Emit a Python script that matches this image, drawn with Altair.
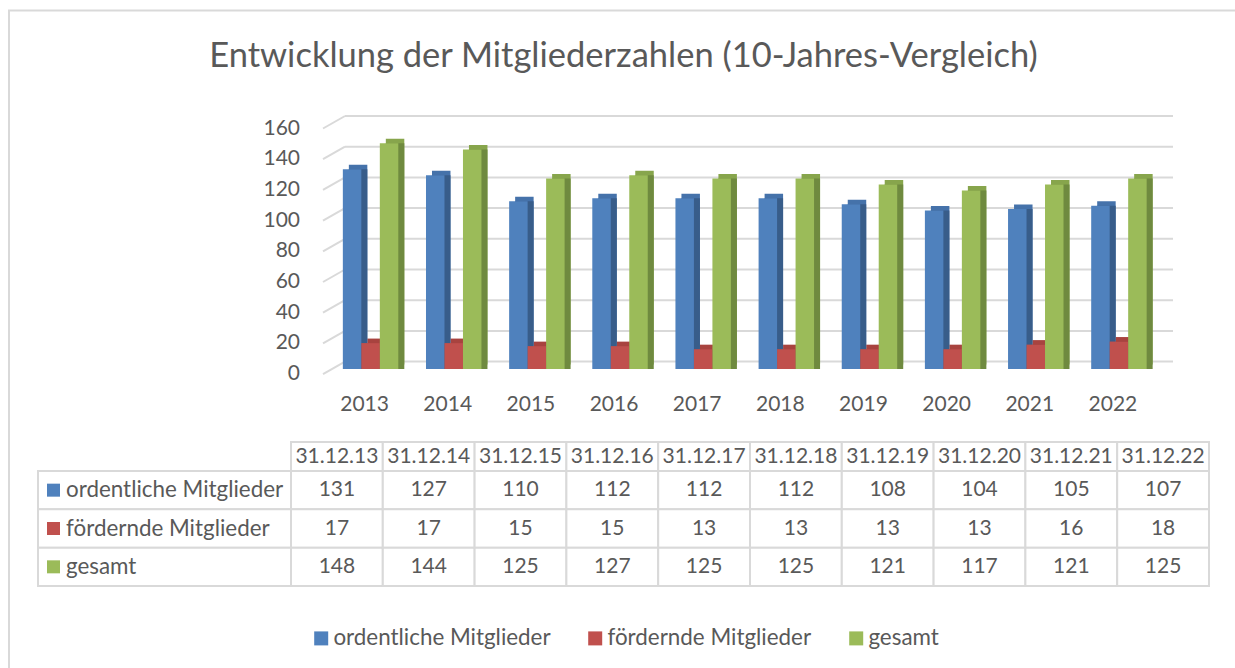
import altair as alt
import pandas as pd

# ---- data ----
title_text = "Entwicklung der Mitgliederzahlen (10-Jahres-Vergleich)"
years = ["2013", "2014", "2015", "2016", "2017", "2018", "2019", "2020", "2021", "2022"]
dates = ["31.12.13", "31.12.14", "31.12.15", "31.12.16", "31.12.17",
         "31.12.18", "31.12.19", "31.12.20", "31.12.21", "31.12.22"]
series = ["ordentliche Mitglieder", "fördernde Mitglieder", "gesamt"]
ordentliche = [131, 127, 110, 112, 112, 112, 108, 104, 105, 107]
foerdernde = [17, 17, 15, 15, 13, 13, 13, 13, 16, 18]
gesamt = [148, 144, 125, 127, 125, 125, 121, 117, 121, 125]
y_ticks = [0, 20, 40, 60, 80, 100, 120, 140, 160]

colors_front = ["#4f81bd", "#c0504d", "#9bbb59"]
colors_top = ["#4572aa", "#a8433f", "#87a54c"]
colors_side = ["#385d8a", "#8c3a37", "#6f8a3f"]
TXT = "#595959"
GRID = "#d9d9d9"
FONT = "Lato"
NUM_SIZE = 21
WORD_SIZE = 22.4

rows = []
for i, (yr, dt) in enumerate(zip(years, dates)):
    for s, vals in zip(series, [ordentliche, foerdernde, gesamt]):
        rows.append({"year": yr, "date": dt, "series": s, "value": vals[i]})
df = pd.DataFrame(rows)
df_years = pd.DataFrame({"year": years})
df_dates = pd.DataFrame({"date": dates})
df_ticks = pd.DataFrame({"tick": y_ticks})
df_series = pd.DataFrame({"series": series})
df_one = pd.DataFrame({"t": [title_text]})

# ---- scales ----
BAND = 83.15 * (1 - 0.333)
DX, DY = 6, 4.5
xs = alt.Scale(domain=years, range=[329, 1160.5], paddingInner=0.333, paddingOuter=0.1665)
ys = alt.Scale(domain=[0, 160], range=[369, 125], nice=False, zero=True)
offs = alt.Scale(domain=series, range=[0, BAND], paddingInner=0, paddingOuter=0)
offs_side = alt.Scale(domain=series, range=[DX, BAND + DX], paddingInner=0, paddingOuter=0)
gys = alt.Scale(domain=[0, 160], range=[361.6, 116], nice=False, zero=True)
tx = alt.Scale(domain=dates, range=[291, 1209], paddingInner=0, paddingOuter=0)
ty = alt.Scale(domain=series, range=[471, 586], paddingInner=0, paddingOuter=0)

# ---- frame & title ----
frame = alt.Chart(df_one).mark_rect(fillOpacity=0, stroke=GRID, strokeWidth=2).encode(
    x=alt.value(9), x2=alt.value(1260), y=alt.value(10.5), y2=alt.value(700))

title = alt.Chart(df_one).mark_text(font=FONT, fontSize=34.5, color=TXT, baseline="alphabetic").encode(
    x=alt.value(623.5), y=alt.value(67), text="t:N")

# ---- gridlines ----
grid_back = alt.Chart(df_ticks).mark_rule(color=GRID, strokeWidth=2).encode(
    x=alt.value(345), x2=alt.value(1173),
    y=alt.Y("tick:Q", scale=gys, axis=None))
grid_diag = alt.Chart(df_ticks).mark_rule(color=GRID, strokeWidth=2, yOffset=12.5).encode(
    x=alt.value(323), x2=alt.value(345),
    y=alt.Y("tick:Q", scale=gys, axis=None), y2="tick:Q")
tick_labels = alt.Chart(df_ticks).mark_text(
    font=FONT, fontSize=NUM_SIZE, color=TXT, align="right", baseline="middle", dy=12.5).encode(
    x=alt.value(300), y=alt.Y("tick:Q", scale=gys, axis=None), text="tick:Q")

# ---- bars (3D look: top face, side face, front face) ----
top = alt.Chart(df).mark_bar(yOffset=-DY, y2Offset=-DY).encode(
    x=alt.X("year:N", scale=xs, axis=None),
    xOffset=alt.XOffset("series:N", scale=offs_side),
    y=alt.Y("value:Q", scale=ys, axis=None),
    color=alt.Color("series:N", scale=alt.Scale(domain=series, range=colors_top), legend=None))

side = alt.Chart(df).mark_bar(y2Offset=-DY).encode(
    x=alt.X("year:N", scale=xs, axis=None),
    xOffset=alt.XOffset("series:N", scale=offs_side),
    y=alt.Y("value:Q", scale=ys, axis=None),
    color=alt.Color("series:N", scale=alt.Scale(domain=series, range=colors_side), legend=None))

front = alt.Chart(df).mark_bar().encode(
    x=alt.X("year:N", scale=xs, axis=None),
    xOffset=alt.XOffset("series:N", scale=offs),
    y=alt.Y("value:Q", scale=ys, axis=None),
    color=alt.Color("series:N", scale=alt.Scale(domain=series, range=colors_front),
                    legend=alt.Legend(orient="none", legendX=310, legendY=627, direction="horizontal",
                                      title=None, symbolType="square", symbolSize=196,
                                      symbolStrokeWidth=0, labelFont=FONT, labelFontSize=WORD_SIZE,
                                      labelColor=TXT, labelLimit=400, labelOffset=1,
                                      columnPadding=33)))

x_labels = alt.Chart(df_years).mark_text(font=FONT, fontSize=NUM_SIZE, color=TXT, dx=-6, baseline="middle").encode(
    x=alt.X("year:N", scale=xs, axis=None), y=alt.value(405), text="year:N")

# ---- data table ----
cells = alt.Chart(df).mark_rect(fill="white", stroke=GRID, strokeWidth=2).encode(
    x=alt.X("date:N", scale=tx, axis=None), y=alt.Y("series:N", scale=ty, axis=None))
label_cells = alt.Chart(df_series).mark_rect(fill="white", stroke=GRID, strokeWidth=2).encode(
    x=alt.value(38), x2=alt.value(291), y=alt.Y("series:N", scale=ty, axis=None))
header_cells = alt.Chart(df_dates).mark_rect(fill="white", stroke=GRID, strokeWidth=2).encode(
    x=alt.X("date:N", scale=tx, axis=None), y=alt.value(442), y2=alt.value(471))
header_text = alt.Chart(df_dates).mark_text(font=FONT, fontSize=NUM_SIZE, color=TXT, baseline="middle").encode(
    x=alt.X("date:N", scale=tx, axis=None), y=alt.value(457), text="date:N")
value_text = alt.Chart(df).mark_text(font=FONT, fontSize=NUM_SIZE, color=TXT, baseline="middle").encode(
    x=alt.X("date:N", scale=tx, axis=None), y=alt.Y("series:N", scale=ty, axis=None), text="value:Q")
label_text = alt.Chart(df_series).mark_text(font=FONT, fontSize=WORD_SIZE, color=TXT, align="left", baseline="middle").encode(
    x=alt.value(66), y=alt.Y("series:N", scale=ty, axis=None), text="series:N")
label_sq = alt.Chart(df_series).mark_square(size=169, opacity=1).encode(
    x=alt.value(53.5), y=alt.Y("series:N", scale=ty, axis=None),
    color=alt.Color("series:N", scale=alt.Scale(domain=series, range=colors_front), legend=None))

chart = alt.layer(
    frame, title, grid_back, grid_diag, tick_labels, top, side, front, x_labels,
    cells, label_cells, header_cells, header_text, value_text, label_text, label_sq
).resolve_scale(
    x="independent", y="independent", color="independent", xOffset="independent"
).properties(
    width=1235, height=668, padding=0, autosize=alt.AutoSizeParams(type="none"),
    background="white"
).configure_view(strokeWidth=0)

chart.save("out.html", embed_options={"renderer": "svg", "actions": False})
